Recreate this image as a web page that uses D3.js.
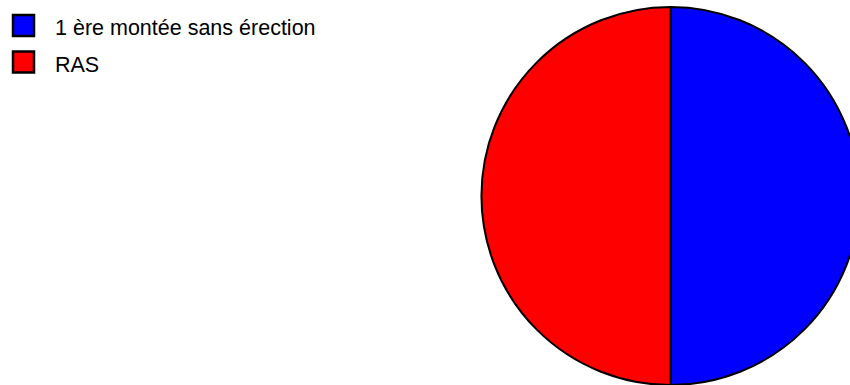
<!DOCTYPE html>
<html><head><meta charset="utf-8">
<script src="https://cdn.jsdelivr.net/npm/d3@7"></script>
<style>body{margin:0;background:#fff;}svg{display:block;}</style>
</head><body>
<script>
const categories = ["1 ère montée sans érection", "RAS"];
const values = [1, 1];
const colors = ["#0000ff", "#ff0000"];

const W = 850, H = 385;
const svg = d3.select("body").append("svg").attr("width", W).attr("height", H);

const cx = 670.5, cy = 196, r = 189;
const pie = d3.pie().sort(null).value(d => d)(values);
const arc = d3.arc().innerRadius(0).outerRadius(r);
const g = svg.append("g").attr("transform", `translate(${cx},${cy})`);
g.selectAll("path").data(pie).join("path")
  .attr("d", arc)
  .attr("fill", (d, i) => colors[i])
  .attr("stroke", "#000").attr("stroke-width", 2).attr("stroke-linejoin", "round");

const lg = svg.append("g");
categories.forEach((c, i) => {
  const y = 15 + i * 36.5;
  lg.append("rect").attr("x", 13).attr("y", y).attr("width", 21).attr("height", 21)
    .attr("fill", colors[i]).attr("stroke", "#000").attr("stroke-width", 2.5);
  lg.append("text").attr("x", 55).attr("y", y + 20)
    .attr("font-family", "Liberation Sans, Arial, sans-serif").attr("font-size", 21.5)
    .attr("fill", "#000").text(c);
});
</script>
</body></html>
